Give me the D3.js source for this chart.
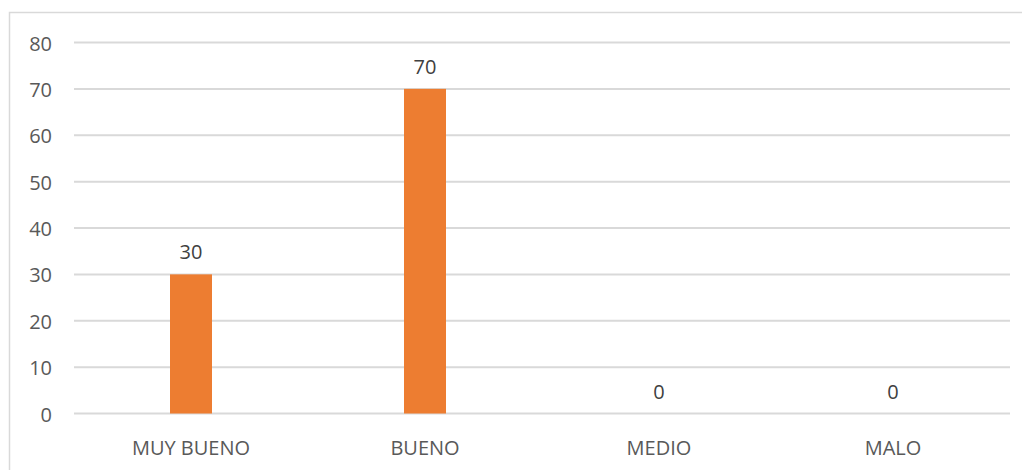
<!DOCTYPE html>
<html>
<head>
<meta charset="utf-8">
<script src="https://cdn.jsdelivr.net/npm/d3@7"></script>
<style>
  html, body { margin: 0; padding: 0; background: #fff; }
  svg { display: block; }
</style>
</head>
<body>
<div id="chart"></div>
<script>
// data
var categories = ["MUY BUENO", "BUENO", "MEDIO", "MALO"];
var values = [30, 70, 0, 0];
var yTicks = [0, 10, 20, 30, 40, 50, 60, 70, 80];

var W = 1022, H = 470;
var plotLeft = 74, plotRight = 1010, plotTop = 42.5, plotBottom = 413.5;
var fontSize = "20px";

var svg = d3.select("#chart")
  .append("svg")
  .attr("width", W)
  .attr("height", H)
  .style("font-family", '"Open Sans", sans-serif');

// chart border (runs off the right and bottom edge)
svg.append("rect")
  .attr("x", 9.5).attr("y", 12.5)
  .attr("width", 1030).attr("height", 480)
  .attr("fill", "none")
  .attr("stroke", "#d9d9d9")
  .attr("stroke-width", 1.5);

var x = d3.scaleBand()
  .domain(categories)
  .range([plotLeft, plotRight]);

var y = d3.scaleLinear()
  .domain([0, 80])
  .range([plotBottom, plotTop]);

// gridlines
svg.append("g")
  .selectAll("line")
  .data(yTicks)
  .enter()
  .append("line")
    .attr("x1", plotLeft).attr("x2", plotRight)
    .attr("y1", function(d){ return y(d) })
    .attr("y2", function(d){ return y(d) })
    .attr("stroke", "#d9d9d9")
    .attr("stroke-width", 2);

// y labels
svg.append("g")
  .selectAll("text")
  .data(yTicks)
  .enter()
  .append("text")
    .attr("x", 52)
    .attr("y", function(d){ return y(d) + 1 })
    .attr("dy", "0.35em")
    .attr("text-anchor", "end")
    .style("font-size", fontSize)
    .style("fill", "#595959")
    .text(function(d){ return d });

// bars
var barW = 42;
svg.append("g")
  .selectAll("rect")
  .data(values)
  .enter()
  .append("rect")
    .attr("x", function(d, i){ return x(categories[i]) + x.bandwidth()/2 - barW/2 })
    .attr("y", function(d){ return y(d) })
    .attr("width", barW)
    .attr("height", function(d){ return y(0) - y(d) })
    .attr("fill", "#ed7d31");

// value labels
svg.append("g")
  .selectAll("text")
  .data(values)
  .enter()
  .append("text")
    .attr("x", function(d, i){ return x(categories[i]) + x.bandwidth()/2 })
    .attr("y", function(d){ return y(d) - 15 })
    .attr("text-anchor", "middle")
    .style("font-size", fontSize)
    .style("fill", "#404040")
    .text(function(d){ return d });

// category labels
svg.append("g")
  .selectAll("text")
  .data(categories)
  .enter()
  .append("text")
    .attr("x", function(d){ return x(d) + x.bandwidth()/2 })
    .attr("y", 455)
    .attr("text-anchor", "middle")
    .style("font-size", fontSize)
    .style("fill", "#595959")
    .text(function(d){ return d });
</script>
</body>
</html>
